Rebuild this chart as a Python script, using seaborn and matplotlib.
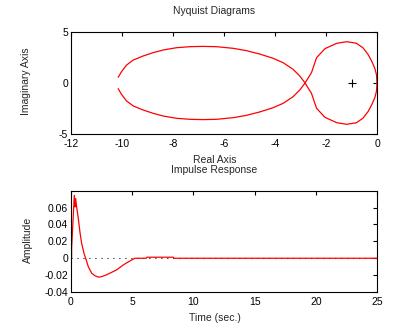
import matplotlib
matplotlib.use("Agg")
import matplotlib.pyplot as plt
import seaborn as sns
import numpy as np
import pandas as pd

# ---- data ----
nyq_re = [-10.15, -10.02, -9.82, -9.56, -9.17, -8.78, -8.38, -7.86, -7.34, -6.82,
          -6.29, -5.64, -5.12, -4.60, -4.07, -3.68, -3.29, -3.03, -2.83, -2.57,
          -2.37, -2.04, -1.58, -1.19, -0.81, -0.55, -0.35, -0.20, -0.08, -0.02, 0.0]
nyq_im = [0.56, 1.11, 1.76, 2.25, 2.65, 2.97, 3.24, 3.46, 3.56, 3.59,
          3.56, 3.40, 3.17, 2.84, 2.42, 1.99, 1.34, 0.69, 0.03, -1.01,
          -2.48, -3.37, -3.89, -4.05, -3.90, -3.45, -2.80, -2.10, -1.40, -0.80, 0.0]

imp_t = [0, 0.05, 0.05, 0.27, 0.33, 0.38, 0.46, 0.60, 0.73, 0.87, 1.06, 1.22, 1.41,
         1.69, 1.96, 2.23, 2.37, 2.78, 3.18, 3.73, 4.27, 4.82, 5.22, 6.15, 6.20,
         8.35, 8.40, 25]
imp_y = [0, 0, 0.012, 0.0745, 0.0607, 0.0706, 0.0607, 0.047, 0.031, 0.0176, 0.0059,
         -0.001, -0.0099, -0.0177, -0.0208, -0.0223, -0.0223, -0.0204, -0.0177,
         -0.0138, -0.0079, -0.0032, 0, 0, 0.0012, 0.0012, 0, 0]

nyq_xticks = [-12, -10, -8, -6, -4, -2, 0]
nyq_yticks = [-5, 0, 5]
imp_xticks = [0, 5, 10, 15, 20, 25]
imp_yticks = [-0.04, -0.02, 0, 0.02, 0.04, 0.06]
imp_yticklabels = ["-0.04", "-0.02", "0", "0.02", "0.04", "0.06"]

sns.set_style("white")
plt.rcParams['font.family'] = ['Liberation Sans', 'DejaVu Sans']
plt.rcParams['axes.unicode_minus'] = False
plt.rcParams['font.size'] = 7.5

W, H = 418, 335
fig = plt.figure(figsize=(W / 100, H / 100), dpi=100)
fig.patch.set_facecolor("white")

ax1 = fig.add_axes([71 / W, (H - 134) / H, 306 / W, 102 / H])
ax2 = fig.add_axes([71 / W, (H - 292) / H, 306 / W, 101.3 / H])

red = "#ff0000"
lw = 0.9

# Nyquist
df_pos = pd.DataFrame({"re": nyq_re, "im": nyq_im})
df_neg = pd.DataFrame({"re": nyq_re, "im": [-v for v in nyq_im]})
sns.lineplot(data=df_pos, x="re", y="im", sort=False, estimator=None, color=red, lw=lw, ax=ax1)
sns.lineplot(data=df_neg, x="re", y="im", sort=False, estimator=None, color=red, lw=lw, ax=ax1)
ax1.plot([-1], [0], marker="+", color="black", ms=6, mew=0.8, ls="none")
ax1.set_xlim(-12, 0)
ax1.set_ylim(-5, 5)
ax1.set_xticks(nyq_xticks)
ax1.set_xticklabels([str(v) for v in nyq_xticks])
ax1.set_yticks(nyq_yticks)
ax1.set_yticklabels([str(v) for v in nyq_yticks])

# Impulse
ax2.plot([0, 25], [0, 0], color="black", lw=0.75, ls=(0, (1, 4.75)))
df_imp = pd.DataFrame({"t": imp_t, "y": imp_y})
sns.lineplot(data=df_imp, x="t", y="y", sort=False, estimator=None, color=red, lw=lw, ax=ax2)
ax2.set_xlim(0, 25)
ax2.set_ylim(-0.04, 0.08)
ax2.set_xticks(imp_xticks)
ax2.set_xticklabels([str(v) for v in imp_xticks])
ax2.set_yticks(imp_yticks)
ax2.set_yticklabels(imp_yticklabels)

for ax, title, xl, yl, hpx, ylx, yly in [
    (ax1, "Nyquist Diagrams", "Real Axis", "Imaginary Axis", 102, 26.5, 134 - 81.5),
    (ax2, "Impulse Response", "Time (sec.)", "Amplitude", 101.3, 27.5, 292 - 240),
]:
    for s in ax.spines.values():
        s.set_visible(True)
        s.set_color("black")
        s.set_linewidth(0.8)
    ax.tick_params(direction="in", length=3, width=0.8, top=True, right=True,
                   labelsize=7.5, colors="black")
    ax.tick_params(axis="x", pad=3.5)
    ax.tick_params(axis="y", pad=2)
    cx = (214.5 - 71) / 306
    ax.set_title(title, x=cx, y=1 + (21 if ax is ax1 else 20.5) / hpx, pad=0,
                 va="center", fontsize=7.5)
    ax.set_xlabel(xl, fontsize=7.5, va="center")
    ax.xaxis.set_label_coords(cx, -26 / hpx)
    ax.set_ylabel(yl, fontsize=7.5, va="center")
    ax.yaxis.set_label_coords((ylx - 71) / 306, yly / hpx)
    ax.set_facecolor("white")

fig.savefig("out.png", dpi=100, facecolor="white")
